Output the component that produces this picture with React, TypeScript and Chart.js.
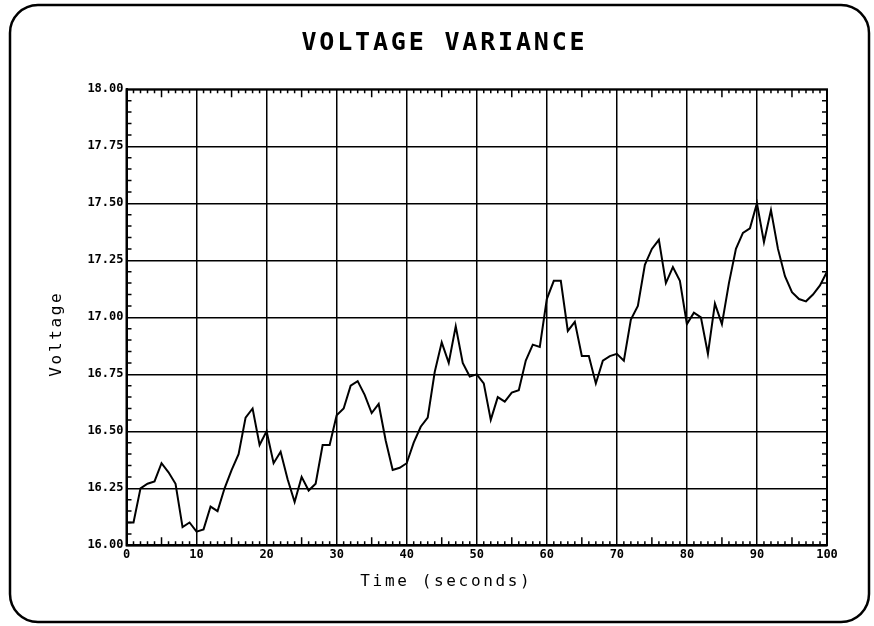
import React, { useEffect, useRef } from "react";
import { Chart, registerables } from "chart.js";

Chart.register(...registerables);

const TITLE = "VOLTAGE VARIANCE";
const X_TITLE = "Time (seconds)";
const Y_TITLE = "Voltage";

const seconds = [
  0, 1, 2, 3, 4, 5, 6, 7, 8, 9,
  10, 11, 12, 13, 14, 15, 16, 17, 18, 19,
  20, 21, 22, 23, 24, 25, 26, 27, 28, 29,
  30, 31, 32, 33, 34, 35, 36, 37, 38, 39,
  40, 41, 42, 43, 44, 45, 46, 47, 48, 49,
  50, 51, 52, 53, 54, 55, 56, 57, 58, 59,
  60, 61, 62, 63, 64, 65, 66, 67, 68, 69,
  70, 71, 72, 73, 74, 75, 76, 77, 78, 79,
  80, 81, 82, 83, 84, 85, 86, 87, 88, 89,
  90, 91, 92, 93, 94, 95, 96, 97, 98, 99,
  100,
];

const voltage = [
  16.10, 16.10, 16.25, 16.27, 16.28, 16.36, 16.32, 16.27, 16.08, 16.10,
  16.06, 16.07, 16.17, 16.15, 16.25, 16.33, 16.40, 16.56, 16.60, 16.44,
  16.50, 16.36, 16.41, 16.29, 16.19, 16.30, 16.24, 16.27, 16.44, 16.44,
  16.57, 16.60, 16.70, 16.72, 16.66, 16.58, 16.62, 16.46, 16.33, 16.34,
  16.36, 16.45, 16.52, 16.56, 16.76, 16.89, 16.80, 16.96, 16.80, 16.74,
  16.75, 16.71, 16.55, 16.65, 16.63, 16.67, 16.68, 16.81, 16.88, 16.87,
  17.08, 17.16, 17.16, 16.94, 16.98, 16.83, 16.83, 16.71, 16.81, 16.83,
  16.84, 16.81, 16.99, 17.05, 17.23, 17.30, 17.34, 17.15, 17.22, 17.16,
  16.97, 17.02, 17.00, 16.84, 17.06, 16.97, 17.15, 17.30, 17.37, 17.39,
  17.50, 17.33, 17.47, 17.30, 17.18, 17.11, 17.08, 17.07, 17.10, 17.14,
  17.20,
];

const MONO = '"DejaVu Sans Mono", "Liberation Mono", monospace';

function drawSpaced(
  ctx: CanvasRenderingContext2D,
  text: string,
  x0: number,
  x1: number,
  y: number,
  font: string
) {
  const step = (x1 - x0) / text.length;
  ctx.font = font;
  ctx.textAlign = "center";
  ctx.textBaseline = "middle";
  for (let i = 0; i < text.length; i++) {
    ctx.fillText(text[i], x0 + step * (i + 0.5), y);
  }
}

const decorPlugin = {
  id: "decor",
  afterDraw(chart: any) {
    const ctx: CanvasRenderingContext2D = chart.ctx;
    const xs = chart.scales.x;
    const ys = chart.scales.y;
    const a = chart.chartArea;
    ctx.save();
    ctx.strokeStyle = "#000";
    ctx.fillStyle = "#000";

    // minor ticks on x (top and bottom, pointing inward)
    ctx.lineWidth = 1.5;
    for (const v of seconds) {
      if (v % 10 === 0) continue;
      const px = xs.getPixelForValue(v);
      const len = v % 5 === 0 ? 8 : 4;
      ctx.beginPath();
      ctx.moveTo(px, a.bottom);
      ctx.lineTo(px, a.bottom - len);
      ctx.moveTo(px, a.top);
      ctx.lineTo(px, a.top + len);
      ctx.stroke();
    }
    // minor ticks on y (left and right, pointing inward)
    for (let k = 1; k < 40; k++) {
      if (k % 5 === 0) continue;
      const v = ys.min + k * 0.05;
      const py = ys.getPixelForValue(v);
      ctx.beginPath();
      ctx.moveTo(a.left, py);
      ctx.lineTo(a.left + 5, py);
      ctx.moveTo(a.right, py);
      ctx.lineTo(a.right - 5, py);
      ctx.stroke();
    }
    // plot frame
    ctx.lineWidth = 2;
    ctx.strokeRect(a.left, a.top, a.right - a.left, a.bottom - a.top);

    // title and axis titles
    drawSpaced(ctx, TITLE, 300, 586, 43, `bold 25px ${MONO}`);
    drawSpaced(ctx, X_TITLE, 359, 531, 582, `16px ${MONO}`);
    ctx.save();
    ctx.translate(57, 335);
    ctx.rotate(-Math.PI / 2);
    drawSpaced(ctx, Y_TITLE, -43, 43, 0, `16px ${MONO}`);
    ctx.restore();

    // rounded outer frame
    const L = 10, T = 5, R = 869, B = 622, r = 28;
    ctx.lineWidth = 2.5;
    ctx.beginPath();
    ctx.moveTo(L + r, T);
    ctx.lineTo(R - r, T);
    ctx.arcTo(R, T, R, T + r, r);
    ctx.lineTo(R, B - r);
    ctx.arcTo(R, B, R - r, B, r);
    ctx.lineTo(L + r, B);
    ctx.arcTo(L, B, L, B - r, r);
    ctx.lineTo(L, T + r);
    ctx.arcTo(L, T, L + r, T, r);
    ctx.closePath();
    ctx.stroke();
    ctx.restore();
  },
};

export default function App() {
  const ref = useRef<HTMLCanvasElement | null>(null);

  useEffect(() => {
    if (!ref.current) return;
    const chart = new Chart(ref.current, {
      type: "line",
      data: {
        datasets: [
          {
            label: "Voltage",
            data: seconds.map((s, i) => ({ x: s, y: voltage[i] })),
            borderColor: "#000",
            borderWidth: 2,
            pointRadius: 0,
            tension: 0,
            fill: false,
          },
        ],
      },
      options: {
        responsive: false,
        animation: false,
        devicePixelRatio: 1,
        layout: { padding: { top: 89.3, right: 47, left: 0, bottom: 0 } },
        plugins: {
          legend: { display: false },
          tooltip: { enabled: false },
          title: { display: false },
        },
        scales: {
          x: {
            type: "linear",
            min: 0,
            max: 100,
            afterFit: (s: any) => {
              s.height = 80.7;
            },
            ticks: {
              stepSize: 10,
              autoSkip: false,
              maxRotation: 0,
              padding: 2,
              color: "#000",
              font: { family: MONO, size: 12, weight: "bold" },
            },
            grid: { color: "#000", lineWidth: 1.5, drawTicks: false },
            border: { display: true, color: "#000", width: 2 },
          },
          y: {
            type: "linear",
            min: 16,
            max: 18,
            afterFit: (s: any) => {
              s.width = 126.5;
            },
            ticks: {
              stepSize: 0.25,
              padding: 3,
              color: "#000",
              font: { family: MONO, size: 12, weight: "bold" },
              callback: (v: any) => Number(v).toFixed(2),
            },
            grid: { color: "#000", lineWidth: 1.5, drawTicks: false },
            border: { display: true, color: "#000", width: 2 },
          },
        },
      } as any,
      plugins: [decorPlugin],
    });
    return () => chart.destroy();
  }, []);

  return (
    <div
      style={{
        position: "fixed",
        left: 0,
        top: 0,
        width: 874,
        height: 626,
        background: "#fff",
      }}
    >
      <canvas ref={ref} width={874} height={626} />
    </div>
  );
}
